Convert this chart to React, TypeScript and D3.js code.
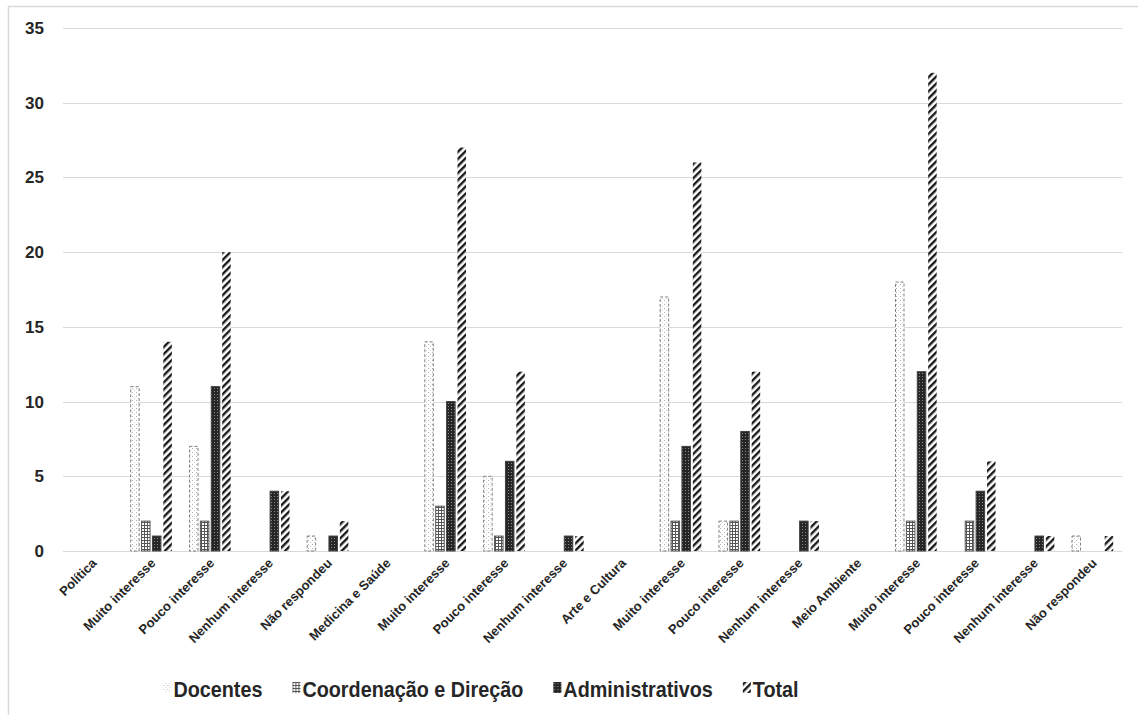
import React, { useEffect, useRef } from "react";
import * as d3 from "d3";

const categories = [
  "Política", "Muito interesse", "Pouco interesse", "Nenhum interesse", "Não respondeu",
  "Medicina e Saúde", "Muito interesse", "Pouco interesse", "Nenhum interesse",
  "Arte e Cultura", "Muito interesse", "Pouco interesse", "Nenhum interesse",
  "Meio Ambiente", "Muito interesse", "Pouco interesse", "Nenhum interesse", "Não respondeu",
];
const docentes = [0, 11, 7, 0, 1, 0, 14, 5, 0, 0, 17, 2, 0, 0, 18, 0, 0, 1];
const coordenacao = [0, 2, 2, 0, 0, 0, 3, 1, 0, 0, 2, 2, 0, 0, 2, 2, 0, 0];
const administrativos = [0, 1, 11, 4, 1, 0, 10, 6, 1, 0, 7, 8, 2, 0, 12, 4, 1, 0];
const total = [0, 14, 20, 4, 2, 0, 27, 12, 1, 0, 26, 12, 2, 0, 32, 6, 1, 1];
const seriesNames = ["Docentes", "Coordenação e Direção", "Administrativos", "Total"];
const yTicks = [0, 5, 10, 15, 20, 25, 30, 35];

const W = 1138;
const H = 715;
const plot = { left: 63, right: 1122, top: 28, bottom: 551 };

const seriesStyle = [
  { fill: "url(#pDoc)", stroke: "#808080", dash: "3,2" },
  { fill: "url(#pCoord)", stroke: "#595959", dash: null },
  { fill: "url(#pAdm)", stroke: "#404040", dash: null },
  { fill: "url(#pTot)", stroke: "none", dash: null },
];

export default function App() {
  const ref = useRef<SVGSVGElement | null>(null);

  useEffect(() => {
    const svg = d3.select(ref.current);
    svg.selectAll("*").remove();

    const defs = svg.append("defs");
    const pDoc = defs.append("pattern").attr("id", "pDoc").attr("patternUnits", "userSpaceOnUse").attr("width", 4).attr("height", 4);
    pDoc.append("rect").attr("width", 4).attr("height", 4).attr("fill", "#fff");
    pDoc.append("rect").attr("x", 0).attr("y", 0).attr("width", 1).attr("height", 1).attr("fill", "#b0b0b0");
    pDoc.append("rect").attr("x", 2).attr("y", 2).attr("width", 1).attr("height", 1).attr("fill", "#d0d0d0");
    const pC = defs.append("pattern").attr("id", "pCoord").attr("patternUnits", "userSpaceOnUse").attr("width", 3).attr("height", 3);
    pC.append("rect").attr("width", 3).attr("height", 3).attr("fill", "#fff");
    pC.append("rect").attr("x", 0).attr("y", 0).attr("width", 3).attr("height", 1).attr("fill", "#555");
    pC.append("rect").attr("x", 0).attr("y", 0).attr("width", 1).attr("height", 3).attr("fill", "#555");
    const pA = defs.append("pattern").attr("id", "pAdm").attr("patternUnits", "userSpaceOnUse").attr("width", 3).attr("height", 3);
    pA.append("rect").attr("width", 3).attr("height", 3).attr("fill", "#262626");
    pA.append("rect").attr("x", 1).attr("y", 1).attr("width", 1).attr("height", 1).attr("fill", "#8a8a8a");
    const pT = defs.append("pattern").attr("id", "pTot").attr("patternUnits", "userSpaceOnUse").attr("width", 5).attr("height", 5)
      .attr("patternTransform", "rotate(45)");
    pT.append("rect").attr("width", 5).attr("height", 5).attr("fill", "#fff");
    pT.append("rect").attr("x", 0).attr("y", 0).attr("width", 2.4).attr("height", 5).attr("fill", "#1a1a1a");

    svg.append("rect").attr("x", 8.5).attr("y", 6.5).attr("width", W).attr("height", H)
      .attr("fill", "#fff").attr("stroke", "#d9d9d9").attr("stroke-width", 1.5);

    const y = d3.scaleLinear().domain([0, 35]).range([plot.bottom, plot.top]);
    const x0 = d3.scaleBand<number>().domain(d3.range(categories.length)).range([plot.left, plot.right]).paddingInner(0).paddingOuter(0);
    const groupW = x0.bandwidth() * 0.7;
    const x1 = d3.scaleBand<number>().domain([0, 1, 2, 3]).range([0, groupW]).paddingInner(0.22);

    svg.append("g").selectAll("line").data(yTicks).join("line")
      .attr("x1", plot.left).attr("x2", plot.right)
      .attr("y1", (d) => Math.round(y(d)) + 0.5).attr("y2", (d) => Math.round(y(d)) + 0.5)
      .attr("stroke", "#d9d9d9").attr("stroke-width", 1);

    svg.append("g").selectAll("text").data(yTicks).join("text")
      .attr("x", 44).attr("y", (d) => y(d) + 6)
      .attr("text-anchor", "end")
      .attr("font-family", "Liberation Sans, Arial, sans-serif")
      .attr("font-weight", "bold").attr("font-size", 17).attr("fill", "#262626")
      .text((d) => String(d));

    const series = [docentes, coordenacao, administrativos, total];
    series.forEach((vals, si) => {
      const st = seriesStyle[si];
      svg.append("g").selectAll("rect").data(vals.map((v, i) => ({ v, i })).filter((d) => d.v > 0)).join("rect")
        .attr("x", (d) => (x0(d.i) as number) + (x0.bandwidth() - groupW) / 2 + (x1(si) as number))
        .attr("width", x1.bandwidth())
        .attr("y", (d) => y(d.v))
        .attr("height", (d) => y(0) - y(d.v))
        .attr("fill", st.fill)
        .attr("stroke", st.stroke)
        .attr("stroke-width", 1)
        .attr("stroke-dasharray", st.dash);
    });

    svg.append("g").selectAll("text").data(categories.map((c, i) => ({ c, i }))).join("text")
      .attr("transform", (d) => `translate(${(x0(d.i) as number) + x0.bandwidth() / 2 + 5},${564}) rotate(-45)`)
      .attr("text-anchor", "end")
      .attr("font-family", "Liberation Sans, Arial, sans-serif")
      .attr("font-weight", "bold").attr("font-size", 13).attr("fill", "#262626")
      .text((d) => d.c);

    const legend = svg.append("g");
    const items = legend.selectAll("g").data(seriesNames.map((n, i) => ({ n, i }))).join("g");
    items.append("rect").attr("width", 8).attr("height", 11).attr("y", -15)
      .attr("fill", (d) => seriesStyle[d.i].fill)
      .attr("stroke", "none");
    const sx = 0.9;
    const texts = items.append("text").attr("transform", `translate(10,0) scale(${sx},1)`)
      .attr("font-family", "Liberation Sans, Arial, sans-serif")
      .attr("font-weight", "bold").attr("font-size", 22).attr("fill", "#262626")
      .text((d) => d.n);
    const widths: number[] = [];
    texts.each(function () { widths.push((this as SVGTextElement).getComputedTextLength() * sx + 10); });
    const gap = 30;
    const totalW = d3.sum(widths) + gap * (widths.length - 1);
    const legendCenter = 481;
    let cx = legendCenter - totalW / 2;
    const offs: number[] = [];
    widths.forEach((w) => { offs.push(cx); cx += w + gap; });
    items.attr("transform", (d) => `translate(${offs[d.i]},${697})`);
  }, []);

  return (
    <div style={{ position: "absolute", left: 0, top: 0 }}>
      <svg ref={ref} width={W} height={H} style={{ display: "block", background: "#fff" }} />
    </div>
  );
}
